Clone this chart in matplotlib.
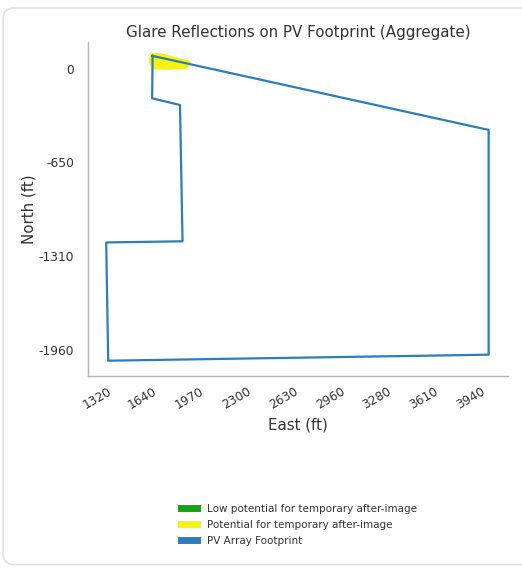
import matplotlib
matplotlib.use("Agg")
import matplotlib.pyplot as plt
from matplotlib.lines import Line2D
from matplotlib.patches import FancyBboxPatch, Polygon

# -----------------------------------
# Data (feet)
# -----------------------------------
# PV array footprint outline
footprint_east = [1710, 4065, 4065, 1399, 1385, 1920, 1902, 1707, 1710]
footprint_north = [91, -426, -1996, -2038, -1212, -1204, -252, -205, 91]

# Glare spots (potential for after-image), yellow blob near the NW corner
glare_east = [1691, 1761, 1867, 1972, 1979, 1937, 1797, 1705, 1684]
glare_north = [112, 112, 84, 56, 28, 0, -7, 0, 49]

# Tick labels
x_ticks = [1320, 1640, 1970, 2300, 2630, 2960, 3280, 3610, 3940]
y_ticks = [0, -650, -1310, -1960]

legend_labels = [
    "Low potential for temporary after-image",
    "Potential for temporary after-image",
    "PV Array Footprint",
]

# -----------------------------------
# Plot
# -----------------------------------
fig = plt.figure(figsize=(5.22, 5.68), dpi=100)
ax = fig.add_axes([0.169, 0.3375, 0.804, 0.5893])

# light card border around the whole figure
card = FancyBboxPatch((0.006, 0.006), 1.05, 0.98, boxstyle="round,pad=0,rounding_size=0.02",
                      transform=fig.transFigure, facecolor="white", edgecolor="#e2e2e2",
                      linewidth=1.2, zorder=-10)
fig.patches.append(card)

glare = Polygon(list(zip(glare_east, glare_north)), closed=True, facecolor="#f4f40c",
                edgecolor="none", zorder=2)
ax.add_patch(glare)

ax.plot(footprint_east, footprint_north, color="#2e7db8", linewidth=1.6, zorder=3)

ax.set_xlim(1259, 4200)
ax.set_ylim(-2147, 191)

ax.set_xticks(x_ticks)
ax.set_xticklabels([str(v) for v in x_ticks], rotation=30)
ax.set_yticks(y_ticks)
ax.set_yticklabels([str(v) for v in y_ticks])
ax.tick_params(length=0, labelsize=8.8, labelcolor="#333333")
ax.tick_params(axis="y", pad=10)
ax.tick_params(axis="x", pad=6)

for side in ["top", "right"]:
    ax.spines[side].set_visible(False)
for side in ["left", "bottom"]:
    ax.spines[side].set_color("#b5b5b5")
    ax.spines[side].set_linewidth(1.0)

ax.set_title("Glare Reflections on PV Footprint (Aggregate)", fontsize=10.9,
             color="#333333", pad=3.5)
ax.set_xlabel("East (ft)", fontsize=10.8, color="#333333", labelpad=4)
ax.set_ylabel("North (ft)", fontsize=10.8, color="#333333", labelpad=2)

handles = [
    Line2D([0], [0], color="#19a019", linewidth=5),
    Line2D([0], [0], color="#f4f40c", linewidth=5),
    Line2D([0], [0], color="#2e7db8", linewidth=5),
]
fig.legend(handles, legend_labels, loc="center", bbox_to_anchor=(0.572, 0.076),
           frameon=False, fontsize=7.5, labelcolor="#333333", labelspacing=0.6,
           handlelength=1.6, handletextpad=0.9)

fig.savefig("out.png", dpi=100)
